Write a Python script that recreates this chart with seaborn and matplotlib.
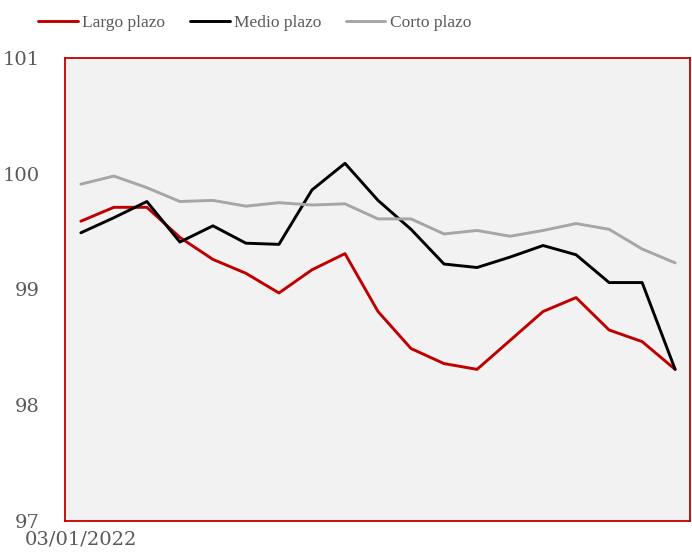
import matplotlib
matplotlib.use("Agg")
import matplotlib.pyplot as plt
import seaborn as sns
import pandas as pd

# weekly observations, first label only shown
fechas = pd.date_range("2022-01-03", periods=19, freq="7D")

largo = [99.59, 99.71, 99.71, 99.45, 99.26, 99.14, 98.97, 99.17, 99.31, 98.81,
         98.49, 98.36, 98.31, 98.56, 98.81, 98.93, 98.65, 98.55, 98.31]
medio = [99.49, 99.62, 99.76, 99.41, 99.55, 99.40, 99.39, 99.86, 100.09, 99.77,
         99.52, 99.22, 99.19, 99.28, 99.38, 99.30, 99.06, 99.06, 98.31]
corto = [99.91, 99.98, 99.88, 99.76, 99.77, 99.72, 99.75, 99.73, 99.74, 99.61,
         99.61, 99.48, 99.51, 99.46, 99.51, 99.57, 99.52, 99.35, 99.23]

series = ["Largo plazo", "Medio plazo", "Corto plazo"]
colores = ["#c00000", "#000000", "#a6a6a6"]
yticks = [97, 98, 99, 100, 101]

n = len(fechas)
df = pd.DataFrame({
    "idx": list(range(n)) * 3,
    "valor": largo + medio + corto,
    "serie": [s for s in series for _ in range(n)],
})

sns.set_style("white")
plt.rcParams["font.family"] = ["DejaVu Serif"]
texto = "#595959"

fig = plt.figure(figsize=(6.92, 5.6), dpi=100)
ax = fig.add_axes([65 / 692, 39 / 560, 625 / 692, 463 / 560])
ax.set_facecolor("#f2f2f2")

sns.lineplot(data=df, x="idx", y="valor", hue="serie", hue_order=series,
             palette=colores, linewidth=2.1, ax=ax)

ax.set_xlim(-0.48, n - 1 + 0.45)
ax.set_ylim(97, 101)
ax.set_yticks(yticks)
ax.set_yticklabels([str(v) for v in yticks], fontsize=14, color=texto)
ax.set_xticks([0])
ax.set_xticklabels([fechas[0].strftime("%d/%m/%Y")], fontsize=14, color=texto)
ax.tick_params(length=0, pad=7)
ax.tick_params(axis="y", pad=18)
ax.set_xlabel("")
ax.set_ylabel("")
for sp in ax.spines.values():
    sp.set_color("#c00000")
    sp.set_linewidth(1.3)

handles, labels = ax.get_legend_handles_labels()
ax.get_legend().remove()
leg = fig.legend(handles, labels, loc="center left",
                 bbox_to_anchor=(38 / 692, 1 - 23 / 560), ncol=3,
                 frameon=False, prop={"family": "Liberation Serif", "size": 12.5},
                 borderpad=0, borderaxespad=0,
                 handlelength=2.3, handletextpad=0.25, columnspacing=1.4)
for t in leg.get_texts():
    t.set_color(texto)

fig.savefig("out.png", dpi=100)
